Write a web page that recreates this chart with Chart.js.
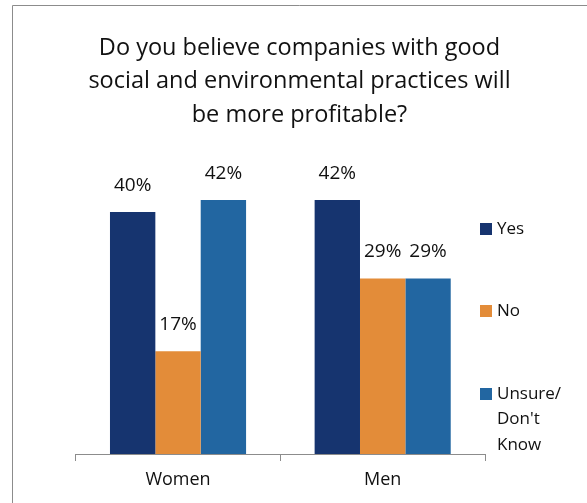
<!DOCTYPE html>
<html>
<head>
<meta charset="utf-8">
<script src="https://cdn.jsdelivr.net/npm/chart.js@4"></script>
<style>
  html, body { margin: 0; padding: 0; background: #fff; }
  #wrap { width: 587px; height: 503px; position: relative; }
</style>
</head>
<body>
<div id="wrap"><canvas id="c" width="587" height="503"></canvas></div>
<script>
// Survey responses by gender (percent)
const categories = ['Women', 'Men'];
const seriesNames = ['Yes', 'No', "Unsure/ Don't Know"];
const yesValues = [40, 42];
const noValues = [17, 29];
const unsureValues = [42, 29];
const titleLines = ['Do you believe companies with good', 'social and environmental practices will', 'be more profitable?'];

const colors = ['#16346f', '#e38c39', '#2266a1'];
const FONT = "'Open Sans', 'Noto Sans', sans-serif";
const TEXT = '#111';

// Outer frame (left and top edges)
const framePlugin = {
  id: 'frame',
  beforeDraw(chart) {
    const ctx = chart.ctx;
    ctx.save();
    ctx.strokeStyle = '#8c8c8c';
    ctx.lineWidth = 1;
    ctx.beginPath();
    ctx.moveTo(12.5, 503);
    ctx.lineTo(12.5, 5.5);
    ctx.lineTo(587, 5.5);
    ctx.stroke();
    ctx.restore();
  }
};

// Percent labels above each bar
const valueLabels = {
  id: 'valueLabels',
  afterDatasetsDraw(chart) {
    const ctx = chart.ctx;
    ctx.save();
    ctx.font = '19px ' + FONT;
    ctx.fillStyle = TEXT;
    ctx.textAlign = 'center';
    ctx.textBaseline = 'middle';
    chart.data.datasets.forEach((ds, i) => {
      chart.getDatasetMeta(i).data.forEach((bar, j) => {
        ctx.fillText(ds.data[j] + '%', bar.x, bar.y - 26.5);
      });
    });
    ctx.restore();
  }
};

// Legend stacked on the right, with wrapped labels
function wrapWords(ctx, text, maxW) {
  const words = text.split(' ');
  const lines = [];
  let cur = '';
  words.forEach(w => {
    const t = cur ? cur + ' ' + w : w;
    if (cur && ctx.measureText(t).width > maxW) { lines.push(cur); cur = w; }
    else cur = t;
  });
  if (cur) lines.push(cur);
  return lines;
}
const sideLegend = {
  id: 'sideLegend',
  afterDraw(chart) {
    const ctx = chart.ctx;
    ctx.save();
    ctx.font = '17px ' + FONT;
    ctx.textBaseline = 'middle';
    ctx.textAlign = 'left';
    const rows = [229, 311, 394];
    chart.data.datasets.forEach((ds, i) => {
      const y = rows[i];
      ctx.fillStyle = ds.backgroundColor;
      ctx.fillRect(480, y - 6, 12, 12);
      ctx.fillStyle = TEXT;
      wrapWords(ctx, ds.label, 72).forEach((ln, k) => {
        ctx.fillText(ln, 497, y + k * 25.5);
      });
    });
    ctx.restore();
  }
};

const values = [yesValues, noValues, unsureValues];

new Chart(document.getElementById('c'), {
  type: 'bar',
  data: {
    labels: categories,
    datasets: seriesNames.map((name, i) => ({
      label: name,
      data: values[i],
      backgroundColor: colors[i],
      borderWidth: 0,
      barPercentage: 1,
      categoryPercentage: 0.665
    }))
  },
  options: {
    responsive: false,
    animation: false,
    layout: { padding: { left: 12, right: 0, top: 0, bottom: 0 } },
    plugins: {
      legend: { display: false },
      tooltip: { enabled: false },
      title: {
        display: true,
        text: titleLines,
        color: TEXT,
        font: { family: FONT, size: 23.5, weight: 'normal', lineHeight: 1.4255 },
        padding: { top: 31.5, bottom: 19.5 }
      }
    },
    scales: {
      x: {
        grid: { display: true, offset: true, drawOnChartArea: false, drawTicks: true, tickLength: 7, color: '#8c8c8c' },
        border: { display: true, color: '#8c8c8c', width: 1 },
        ticks: { color: TEXT, font: { family: FONT, size: 18 }, padding: 8 },
        afterFit(s) { s.height = 49; }
      },
      y: {
        min: 0, max: 50,
        grid: { display: false },
        border: { display: false },
        ticks: { display: false },
        afterFit(s) { s.width = 63.7; }
      },
      yR: {
        type: 'linear',
        position: 'right',
        min: 0, max: 50,
        grid: { display: false },
        border: { display: false },
        ticks: { display: false },
        afterFit(s) { s.width = 102; }
      }
    }
  },
  plugins: [framePlugin, valueLabels, sideLegend]
});
</script>
</body>
</html>
